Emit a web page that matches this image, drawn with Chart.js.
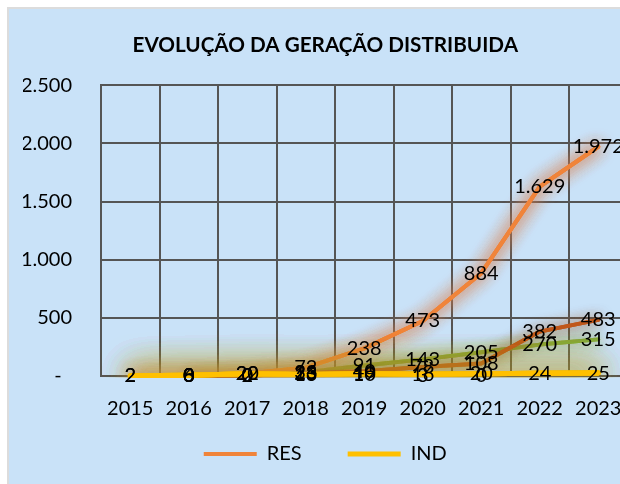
<!DOCTYPE html>
<html>
<head>
<meta charset="utf-8">
<script src="https://cdn.jsdelivr.net/npm/chart.js@4.4.0/dist/chart.umd.min.js"></script>
<style>
  html, body { margin: 0; padding: 0; background: #fff; overflow: hidden; width: 620px; height: 484px; }
  #frame { position: absolute; left: 7px; top: 7px; border-left: 2px solid #dcdcdc; border-top: 2px solid #dcdcdc; background: #c9e2f8; width: 636px; height: 475px; }
  canvas { display: block; }
</style>
</head>
<body>
<div id="frame"><canvas id="chart" width="636" height="475"></canvas></div>
<script>
const years = ['2015', '2016', '2017', '2018', '2019', '2020', '2021', '2022', '2023'];
const res = [2, 8, 22, 72, 238, 473, 884, 1629, 1972];
const com = [null, 0, 2, 26, 40, 78, 108, 382, 483];
const rur = [null, 0, 0, 33, 91, 143, 205, 270, 315];
const ind = [2, 6, 20, 13, 19, 16, 20, 24, 25];
const pp = [null, 0, 0, 23, 10, 3, 0, null, null];
const yTicks = [0, 500, 1000, 1500, 2000, 2500];
const legendShown = ['RES', 'IND'];

const gridColor = '#555555';
const font = { family: 'Lato', size: 20 };

function fmt(v) {
  return String(v).replace(/\B(?=(\d{3})+(?!\d))/g, '.');
}

// soft glow under each line (drawn a few times so it builds up)
const glow = {
  id: 'glow',
  beforeDatasetDraw(chart, args) {
    const ds = chart.data.datasets[args.index];
    if (!ds.glowColor) return;
    chart.ctx.save();
    chart.ctx.shadowColor = ds.glowColor;
    chart.ctx.shadowBlur = ds.glowBlur;
  },
  afterDatasetDraw(chart, args) {
    const ds = chart.data.datasets[args.index];
    if (!ds.glowColor) return;
    const ctx = chart.ctx, a = chart.chartArea;
    for (let k = 1; k < ds.glowRepeat; k++) {
      ctx.save();
      ctx.beginPath();
      ctx.rect(a.left, a.top, a.right - a.left, a.bottom - a.top + 2);
      ctx.clip();
      args.meta.controller.draw();
      ctx.restore();
    }
    ctx.restore();
  }
};

// value labels centred on the points
const valueLabels = {
  id: 'valueLabels',
  afterDatasetsDraw(chart) {
    const ctx = chart.ctx;
    ctx.save();
    ctx.font = font.size + 'px ' + font.family;
    ctx.fillStyle = '#000';
    ctx.textAlign = 'center';
    ctx.textBaseline = 'middle';
    chart.data.datasets.forEach((ds, i) => {
      chart.getDatasetMeta(i).data.forEach((pt, j) => {
        const v = ds.data[j];
        if (v === null || v === undefined) return;
        ctx.fillText(fmt(v), pt.x, pt.y);
      });
    });
    ctx.restore();
  }
};

function line(label, data, color, width, glowColor, glowBlur, glowRepeat, order) {
  return {
    label, data, order,
    borderColor: color, backgroundColor: color, borderWidth: width,
    borderCapStyle: 'round', borderJoinStyle: 'round',
    pointRadius: 0, pointHoverRadius: 0, tension: 0, spanGaps: false,
    glowColor, glowBlur, glowRepeat
  };
}

new Chart(document.getElementById('chart'), {
  type: 'line',
  data: {
    labels: years,
    datasets: [
      line('RES', res, '#f0843a', 4, 'rgba(215,125,75,0.9)', 16, 3, 3),
      line('COM', com, '#c0571b', 4, 'rgba(150,80,30,0.7)', 14, 2, 4),
      line('RUR', rur, '#86ad3f', 4, 'rgba(130,165,60,0.6)', 14, 2, 5),
      line('PP', pp, '#a5a5a5', 3, null, 0, 1, 2),
      line('IND', ind, '#ffc000', 5, 'rgba(180,152,30,1)', 34, 5, 1)
    ]
  },
  options: {
    responsive: false,
    animation: false,
    devicePixelRatio: 1,
    layout: { padding: { left: 14, right: 17.5, top: 0, bottom: 10 } },
    plugins: {
      title: {
        display: true,
        text: 'EVOLUÇÃO DA GERAÇÃO DISTRIBUIDA',
        color: '#000',
        font: { family: 'Lato', size: 20.7, weight: 'bold' },
        padding: { top: 23.5, bottom: 28 }
      },
      legend: {
        position: 'bottom',
        labels: {
          usePointStyle: true, pointStyle: 'line', pointStyleWidth: 53,
          font, color: '#000', padding: 46,
          filter: item => legendShown.includes(item.text),
          sort: (a, b) => a.datasetIndex - b.datasetIndex
        }
      },
      tooltip: { enabled: false }
    },
    scales: {
      x: {
        offset: true,
        grid: { offset: true, color: gridColor, lineWidth: 2, drawTicks: false },
        border: { color: gridColor, width: 2 },
        ticks: { font, color: '#000', mirror: true, padding: -45, maxRotation: 0, autoSkip: false },
        afterFit(scale) { scale.height = 22; }
      },
      y: {
        min: yTicks[0], max: yTicks[yTicks.length - 1],
        afterBuildTicks(scale) { scale.ticks = yTicks.map(v => ({ value: v })); },
        grid: { color: gridColor, lineWidth: 2, drawTicks: false },
        border: { color: gridColor, width: 2 },
        ticks: { font, color: '#000', padding: 29, callback: v => v === 0 ? '-  ' : fmt(v) },
        afterFit(scale) { scale.width = 78; }
      }
    }
  },
  plugins: [glow, valueLabels]
});
</script>
</body>
</html>
